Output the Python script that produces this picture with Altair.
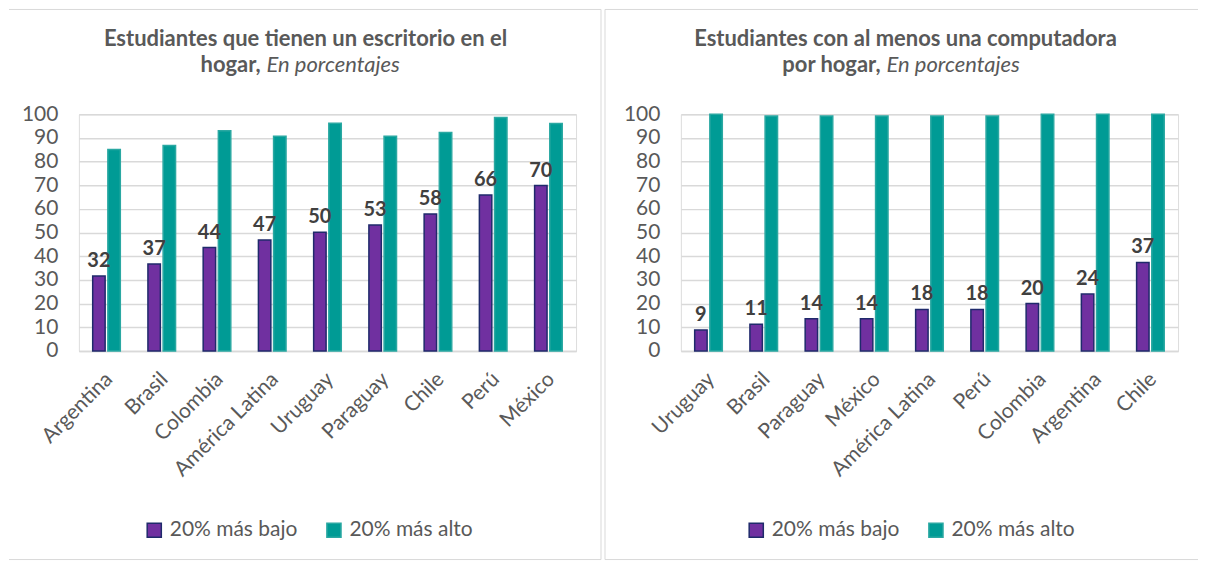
import altair as alt
import pandas as pd

series = ["20% más bajo", "20% más alto"]
fill_colors = ["#7030A0", "#009B95"]
stroke_colors = ["#1F2A6B", "#2AA8A2"]
y_ticks = [0, 10, 20, 30, 40, 50, 60, 70, 80, 90, 100]

left_countries = ["Argentina", "Brasil", "Colombia", "América Latina", "Uruguay",
                  "Paraguay", "Chile", "Perú", "México"]
left_low = [31.7, 36.7, 43.7, 46.9, 50.1, 53.2, 57.9, 65.9, 69.9]
left_high = [85.1, 86.8, 93.0, 90.7, 96.2, 90.7, 92.3, 98.6, 96.1]

right_countries = ["Uruguay", "Brasil", "Paraguay", "México", "América Latina",
                   "Perú", "Colombia", "Argentina", "Chile"]
right_low = [8.8, 11.3, 13.6, 13.6, 17.5, 17.5, 20.0, 24.0, 37.4]
right_high = [100, 99.3, 99.3, 99.3, 99.3, 99.3, 100, 100, 100]

FONT = "Lato"
GRAY = "#595959"
GRID = "#d9d9d9"
W, H = 498, 237


def panel(countries, low, high, title1, title2a, title2b, cx, split_x, frame):
    rows = []
    for c, lo, hi in zip(countries, low, high):
        rows.append({"pais": c, "serie": series[0], "valor": lo})
        rows.append({"pais": c, "serie": series[1], "valor": hi})
    df = pd.DataFrame(rows)

    x = alt.X("pais:N", sort=countries,
              scale=alt.Scale(paddingInner=0.5, paddingOuter=0.25),
              axis=alt.Axis(title=None, labelAngle=-45, labelFontSize=21,
                            labelColor=GRAY, labelFont=FONT, ticks=False,
                            labelAlign="right", labelBaseline="middle",
                            labelOffset=3,
                            domainColor=GRID, domainWidth=1.5, labelPadding=25))
    y = alt.Y("valor:Q", scale=alt.Scale(domain=[0, 100], nice=False),
              axis=alt.Axis(values=y_ticks, title=None, grid=True, gridColor=GRID,
                            gridWidth=1.5, domain=False, ticks=False,
                            labelFontSize=21, labelColor=GRAY, labelFont=FONT,
                            labelPadding=21))
    xoff = alt.XOffset("serie:N", sort=series,
                       scale=alt.Scale(domain=series, paddingInner=0.18))
    leg = alt.Legend(title=None, orient="none", legendX=65, legendY=406,
                     direction="horizontal", symbolType="square", symbolSize=200,
                     labelFontSize=21, labelFont=FONT, labelColor=GRAY,
                     columnPadding=26, labelOffset=5, symbolStrokeWidth=1.5)

    base = alt.Chart(df)
    bars = base.mark_bar(strokeWidth=1.5).encode(
        x=x, y=y, xOffset=xoff,
        fill=alt.Fill("serie:N", sort=series,
                      scale=alt.Scale(domain=series, range=fill_colors), legend=leg),
        stroke=alt.Stroke("serie:N", sort=series,
                          scale=alt.Scale(domain=series, range=stroke_colors), legend=leg),
    )
    labels = base.transform_filter(alt.datum.serie == series[0]).mark_text(
        dy=-5, baseline="bottom", fontWeight="bold", fontSize=20,
        color="#404040", font=FONT
    ).encode(x=x, y=y, xOffset=xoff, text=alt.Text("valor:Q", format=".0f"))

    one = alt.Chart(alt.Data(values=[{}]))
    t1 = one.mark_text(font=FONT, fontSize=22, fontWeight="bold", color=GRAY,
                       align="center", baseline="alphabetic").encode(
        x=alt.value(cx), y=alt.value(-68), text=alt.value(title1))
    t2a = one.mark_text(font=FONT, fontSize=22, fontWeight="bold", color=GRAY,
                        align="right", baseline="alphabetic").encode(
        x=alt.value(split_x - 2), y=alt.value(-42), text=alt.value(title2a))
    t2b = one.mark_text(font=FONT, fontSize=22, fontStyle="italic", color=GRAY,
                        align="left", baseline="alphabetic").encode(
        x=alt.value(split_x + 4), y=alt.value(-42), text=alt.value(title2b))

    x0, x1, y0, y1, draw_left, draw_right = frame
    rule = one.mark_rule(color=GRID, strokeWidth=1)
    layers = [bars, labels, t1, t2a, t2b,
              rule.encode(x=alt.value(x0), x2=alt.value(x1), y=alt.value(y0)),
              rule.encode(x=alt.value(x0), x2=alt.value(x1), y=alt.value(y1))]
    if draw_left:
        layers.append(rule.encode(x=alt.value(x0), y=alt.value(y0), y2=alt.value(y1)))
    if draw_right:
        layers.append(rule.encode(x=alt.value(x1), y=alt.value(y0), y2=alt.value(y1)))
    return alt.layer(*layers).properties(width=W, height=H)


left = panel(left_countries, left_low, left_high,
             "Estudiantes que tienen un escritorio en el", "hogar,", "En porcentajes",
             227, 184, (-70, 523, -105, 446, False, True))
right = panel(right_countries, right_low, right_high,
              "Estudiantes con al menos una computadora", "por hogar,", "En porcentajes",
              225, 202, (-76, 518, -105, 446, True, False))

chart = alt.hconcat(left, right, spacing=2).resolve_scale(
    fill="independent", stroke="independent", x="independent"
).resolve_legend(fill="independent", stroke="independent").properties(
    padding=0
).configure_view(stroke=None).configure(background="white")

chart.save("out.html", embed_options={"renderer": "svg", "actions": False})
